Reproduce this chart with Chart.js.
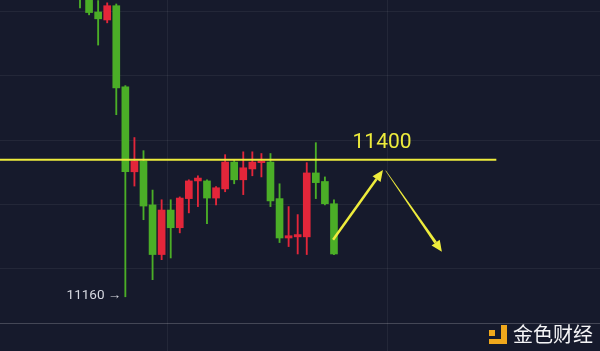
<!DOCTYPE html>
<html>
<head>
<meta charset="utf-8">
<script src="https://cdn.jsdelivr.net/npm/chart.js@4.4.0/dist/chart.umd.min.js"></script>
<style>
  html, body { margin: 0; padding: 0; background: #161a2c; }
  #wrap { width: 600px; height: 351px; position: relative; }
</style>
</head>
<body>
<div id="wrap"><canvas id="kline"></canvas></div>
<script>
// Candles, left to right (index 0 = first candle, partly above the top edge)
const opens  = [11720, 11698, 11659, 11645, 11670, 11528, 11379, 11398, 11321, 11234,
                11312, 11281, 11332, 11363, 11363, 11333, 11349, 11396, 11365, 11384,
                11395, 11396, 11332, 11263, 11265, 11265, 11377, 11362, 11323];
const closes = [11690, 11658, 11647, 11670, 11526, 11379, 11398, 11319, 11234, 11312,
                11281, 11333, 11363, 11368, 11333, 11351, 11396, 11365, 11386, 11396,
                11398, 11328, 11263, 11267, 11269, 11377, 11360, 11323, 11235];
const highs  = [11730, 11705, 11679, 11675, 11673, 11530, 11439, 11416, 11347, 11330,
                11330, 11335, 11365, 11372, 11365, 11353, 11409, 11400, 11414, 11414,
                11411, 11411, 11358, 11318, 11304, 11395, 11430, 11370, 11330];
const lows   = [11666, 11654, 11601, 11640, 11479, 11160, 11354, 11295, 11190, 11225,
                11228, 11272, 11307, 11318, 11288, 11321, 11344, 11358, 11339, 11372,
                11370, 11318, 11255, 11248, 11235, 11234, 11332, 11321, 11234];

// Levels and drawings
const resistanceLevel = 11400;
const resistanceEnd = 45.9;        // candle index where the yellow line stops
const lowLevel = 11160;
const lowIndex = 5;
const arrowUp = [[27.9, 11260], [33.4, 11382]];
const arrowDown = [[33.7, 11381], [39.9, 11239]];

// Grid positions
const gridPrices = [11659, 11547, 11433, 11321, 11209, 11114];
const gridIndexes = [9.6, 33.85];

const xMin = -8.82, xMax = 57.33;
const yMin = 11065, yMax = 11680;

const UP = '#e3263a';
const DOWN = '#4bae27';
const YELLOW = '#eeec3c';

const candleColors = opens.map((o, i) => closes[i] >= o ? UP : DOWN);
const bodies = opens.map((o, i) => ({ x: i, y: [o, closes[i]] }));
const wicks = highs.map((h, i) => ({ x: i, y: [lows[i], h] }));

function drawArrow(ctx, x1, y1, x2, y2, w1, w2, head) {
    const ang = Math.atan2(y2 - y1, x2 - x1);
    const nx = -Math.sin(ang), ny = Math.cos(ang);
    const bx = x2 - Math.cos(ang) * head, by = y2 - Math.sin(ang) * head;
    ctx.beginPath();
    ctx.moveTo(x1 + nx * w1 / 2, y1 + ny * w1 / 2);
    ctx.lineTo(bx + nx * w2 / 2, by + ny * w2 / 2);
    ctx.lineTo(bx - nx * w2 / 2, by - ny * w2 / 2);
    ctx.lineTo(x1 - nx * w1 / 2, y1 - ny * w1 / 2);
    ctx.closePath();
    ctx.fill();
    // arrow head
    ctx.beginPath();
    ctx.moveTo(x2, y2);
    ctx.lineTo(bx + nx * head * 0.45, by + ny * head * 0.45);
    ctx.lineTo(bx - nx * head * 0.45, by - ny * head * 0.45);
    ctx.closePath();
    ctx.fill();
}

const overlay = {
    id: 'overlay',
    afterDatasetsDraw(chart) {
        const ctx = chart.ctx;
        const xs = chart.scales.x, ys = chart.scales.y;
        ctx.save();
        ctx.fillStyle = YELLOW;
        let p = arrowUp.map(a => [xs.getPixelForValue(a[0]), ys.getPixelForValue(a[1])]);
        drawArrow(ctx, p[0][0], p[0][1], p[1][0], p[1][1], 2.5, 2.5, 11);
        p = arrowDown.map(a => [xs.getPixelForValue(a[0]), ys.getPixelForValue(a[1])]);
        drawArrow(ctx, p[0][0], p[0][1], p[1][0], p[1][1], 0.6, 3, 11);

        // level label
        ctx.font = '21px Roboto, "Noto Sans", sans-serif';
        ctx.textAlign = 'center';
        ctx.textBaseline = 'alphabetic';
        ctx.fillText(String(resistanceLevel), xs.getPixelForValue(33.3), ys.getPixelForValue(resistanceLevel) - 12);

        // low label
        ctx.fillStyle = '#d6d8e0';
        ctx.font = '13.5px Roboto, "Noto Sans", sans-serif';
        ctx.textAlign = 'right';
        ctx.textBaseline = 'middle';
        ctx.fillText(lowLevel + ' \u2192', xs.getPixelForValue(lowIndex) - 4, ys.getPixelForValue(lowLevel) - 1);

        // watermark logo
        ctx.fillStyle = '#f0a81c';
        ctx.fillRect(489, 330, 6, 6);
        ctx.fillRect(501, 325, 6, 19);
        ctx.fillRect(489, 339, 18, 5);
        ctx.fillStyle = '#f4f4f6';
        ctx.font = '20px "Noto Sans CJK SC", sans-serif';
        ctx.textAlign = 'left';
        ctx.textBaseline = 'middle';
        ctx.fillText('金色财经', 513, 334);
        ctx.restore();
    }
};

new Chart(document.getElementById('kline'), {
    type: 'bar',
    data: {
        datasets: [
            {
                type: 'line',
                data: [{ x: xMin, y: resistanceLevel }, { x: resistanceEnd, y: resistanceLevel }],
                borderColor: YELLOW,
                borderWidth: 2,
                pointRadius: 0,
                order: 0
            },
            {
                data: wicks,
                backgroundColor: candleColors,
                barThickness: 1.2,
                grouped: false,
                order: 2
            },
            {
                data: bodies,
                backgroundColor: candleColors,
                barThickness: 7,
                grouped: false,
                order: 1
            }
        ]
    },
    plugins: [overlay],
    options: {
        responsive: true,
        maintainAspectRatio: false,
        animation: false,
        layout: { padding: 0 },
        plugins: { legend: { display: false }, tooltip: { enabled: false } },
        scales: {
            x: {
                type: 'linear',
                min: xMin,
                max: xMax,
                offset: false,
                bounds: 'data',
                afterBuildTicks: axis => { axis.ticks = gridIndexes.map(v => ({ value: v })); },
                grid: { color: 'rgba(255,255,255,0.06)', drawTicks: false, offset: false },
                border: { display: false },
                ticks: { display: false }
            },
            y: {
                min: yMin,
                max: yMax,
                afterBuildTicks: axis => { axis.ticks = gridPrices.map(v => ({ value: v })); },
                grid: {
                    color: c => c.tick && c.tick.value === 11114 ? 'rgba(255,255,255,0.2)' : 'rgba(255,255,255,0.06)',
                    drawTicks: false
                },
                border: { display: false },
                ticks: { display: false }
            }
        }
    }
});
</script>
</body>
</html>
